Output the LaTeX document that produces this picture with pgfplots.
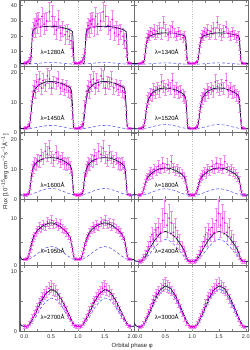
\documentclass[border=0pt]{standalone}
\usepackage{pgfplots}
\pgfplotsset{compat=1.18}
\usepackage{pgfplotstable}
\usepgfplotslibrary{groupplots}
\usetikzlibrary{calc}
\usepackage{fontspec}
\setmainfont{Liberation Sans}
\definecolor{mdlc}{RGB}{30,20,70}
\definecolor{dshc}{RGB}{95,95,250}
\definecolor{ptc}{RGB}{235,0,235}
\definecolor{barc}{RGB}{240,140,240}

% ---------- models (phase 0..1) ----------
\pgfplotstableread{
x y
0 2
0.11 2.1
0.125 4
0.14 15
0.15 21
0.16 23.5
0.18 24.6
0.22 25.3
0.3 26
0.4 26.4
0.5 26.5
0.6 26.3
0.7 25.8
0.8 24.8
0.86 24
0.9 23
0.91 18
0.92 8
0.93 2.5
0.94 2
1.0 2
}\mA
\pgfplotstableread{
x y
0 2
0.09 2.1
0.11 4
0.13 10
0.15 15.5
0.17 18.3
0.2 19.8
0.25 20.7
0.3 21.3
0.4 22
0.5 22.2
0.6 22
0.7 21.6
0.8 21
0.86 20.3
0.88 19
0.9 10
0.91 4
0.92 2.2
0.93 2
1 2
}\mB
\pgfplotstableread{
x y
0 1.5
0.08 1.6
0.1 2.5
0.12 5.5
0.14 9
0.16 11.8
0.18 13.5
0.21 14.8
0.25 15.6
0.3 16.3
0.4 17
0.5 17.2
0.6 17
0.7 16.5
0.8 15.7
0.86 15
0.88 14
0.9 9
0.91 4.5
0.92 2
0.93 1.5
1 1.5
}\mC
\pgfplotstableread{
x y
0 1.4
0.09 1.5
0.11 2.6
0.13 5
0.15 8
0.17 10.2
0.2 11.8
0.25 13.2
0.3 14
0.4 14.8
0.5 15
0.6 14.8
0.7 14.3
0.8 13.4
0.86 12.6
0.88 11.5
0.9 7
0.91 3.5
0.92 1.6
0.93 1.4
1 1.4
}\mD
\pgfplotstableread{
x y
0 1.4
0.08 1.5
0.1 2.8
0.12 6
0.14 8.5
0.16 10.2
0.19 11.4
0.24 12.4
0.3 13.1
0.4 13.7
0.5 13.9
0.6 13.7
0.7 13.1
0.8 12.1
0.86 11.2
0.88 10.2
0.9 6.5
0.91 3.5
0.92 1.6
0.93 1.4
1 1.4
}\mE
\pgfplotstableread{
x y
0 1.4
0.06 1.5
0.08 2.3
0.1 3.5
0.12 4.9
0.15 6.5
0.2 7.9
0.3 9.4
0.4 10.2
0.5 10.4
0.6 10.2
0.7 9.5
0.8 8.4
0.85 7.5
0.88 6.3
0.9 4.5
0.92 2.3
0.93 1.5
1 1.4
}\mF
\pgfplotstableread{
x y
0 1.2
0.05 1.3
0.08 2
0.11 3.5
0.14 5
0.18 6.3
0.25 7.5
0.35 8.4
0.45 8.9
0.5 9
0.55 8.9
0.65 8.4
0.75 7.5
0.82 6.6
0.86 5.8
0.89 4.2
0.92 2
0.95 1.3
1 1.2
}\mG
\pgfplotstableread{
x y
0 0.9
0.05 0.9
0.1 1.3
0.15 2.3
0.2 3.4
0.3 5.3
0.4 6.7
0.5 7.2
0.6 6.8
0.7 5.8
0.8 4.2
0.85 3.2
0.88 2.3
0.91 1.2
0.95 0.9
1 0.9
}\mH
\pgfplotstableread{
x y
0 0.9
0.05 0.95
0.1 1.3
0.2 2.8
0.3 4.8
0.4 6.3
0.5 7.0
0.6 6.6
0.7 5.3
0.8 3.5
0.9 1.6
0.95 1.0
1 0.9
}\mI
\pgfplotstableread{
x y
0 0.8
0.05 0.9
0.1 1.3
0.2 3.0
0.3 5.2
0.4 6.9
0.5 7.6
0.6 7.2
0.7 5.8
0.8 3.8
0.9 1.7
0.95 1.0
1 0.8
}\mJ

% ---------- dashed component ----------
\pgfplotstableread{
x y
0 1.6
0.1 1.7
0.2 1.98
0.3 2.32
0.4 2.6
0.5 2.7
0.6 2.6
0.7 2.32
0.8 1.98
0.9 1.7
1 1.6
}\dA
\pgfplotstableread{
x y
0 1.5
0.1 1.6
0.2 1.85
0.3 2.15
0.4 2.4
0.5 2.5
0.6 2.4
0.7 2.15
0.8 1.85
0.9 1.6
1 1.5
}\dB
\pgfplotstableread{
x y
0 1.3
0.1 1.41
0.2 1.71
0.3 2.09
0.4 2.39
0.5 2.5
0.6 2.39
0.7 2.09
0.8 1.71
0.9 1.41
1 1.3
}\dC
\pgfplotstableread{
x y
0 1.3
0.1 1.44
0.2 1.82
0.3 2.28
0.4 2.66
0.5 2.8
0.6 2.66
0.7 2.28
0.8 1.82
0.9 1.44
1 1.3
}\dD
\pgfplotstableread{
x y
0 1.3
0.1 1.52
0.2 2.09
0.3 2.81
0.4 3.38
0.5 3.6
0.6 3.38
0.7 2.81
0.8 2.09
0.9 1.52
1 1.3
}\dE
\pgfplotstableread{
x y
0 1.2
0.1 1.42
0.2 1.99
0.3 2.71
0.4 3.28
0.5 3.5
0.6 3.28
0.7 2.71
0.8 1.99
0.9 1.42
1 1.2
}\dF
\pgfplotstableread{
x y
0 1.1
0.1 1.38
0.2 2.1
0.3 3.0
0.4 3.72
0.5 4.0
0.6 3.72
0.7 3.0
0.8 2.1
0.9 1.38
1 1.1
}\dG
\pgfplotstableread{
x y
0 0.8
0.1 1.0
0.2 2.3
0.3 3.8
0.4 5.0
0.5 5.5
0.6 5.1
0.7 4.0
0.8 2.6
0.9 1.2
1 0.8
}\dH
\pgfplotstableread{
x y
0 0.8
0.1 1.1
0.2 2.2
0.3 3.8
0.4 5.0
0.5 5.6
0.6 5.3
0.7 4.2
0.8 2.7
0.9 1.3
1 0.8
}\dI
\pgfplotstableread{
x y
0 0.7
0.1 1.1
0.2 2.7
0.3 4.8
0.4 6.4
0.5 7.1
0.6 6.7
0.7 5.3
0.8 3.4
0.9 1.5
1 0.7
}\dJ

% ---------- observed points ----------
\pgfplotstableread{
x y e
0.01 2.2 0.8
0.03 2.5 0.8
0.05 2.8 1.0
0.07 3.2 1.0
0.09 4.5 1.5
0.11 6 2
0.13 9 3
0.15 21 4
0.17 24 5
0.19 27 5
0.21 25 6
0.23 30 5
0.25 28 6
0.27 31 5
0.30 26 6
0.33 33 6
0.37 28 7
0.42 30 6
0.47 36 6
0.52 33 7
0.56 27 6
0.60 24 6
0.64 31 6
0.68 22 5
0.72 25 5
0.76 21 6
0.80 23 5
0.84 20 5
0.87 17 5
0.90 12 5
0.92 6 3
0.94 2.5 1
0.97 2.3 0.8
0.99 2.2 0.8
}\pA
\pgfplotstableread{
x y e
0.01 2.0 0.6
0.03 2.2 0.6
0.05 2.3 0.8
0.07 2.8 0.8
0.09 3.5 1
0.11 6 2
0.13 12 3
0.15 16 3
0.17 19 3
0.19 21 3
0.21 20 3
0.23 23 3
0.26 22 3
0.29 24 4
0.32 21 3
0.35 23 4
0.39 25 4
0.43 22 4
0.47 29 4
0.51 24 4
0.55 21 4
0.59 23 4
0.63 26 4
0.67 22 3
0.71 20 3
0.75 23 3
0.79 21 3
0.83 19 3
0.86 20 3
0.88 14 3
0.90 6 2
0.93 2.5 0.8
0.96 2.0 0.6
0.99 2.0 0.6
}\pB
\pgfplotstableread{
x y e
0.01 1.6 0.4
0.03 1.7 0.4
0.05 1.8 0.5
0.07 2.2 0.6
0.09 3 1
0.11 5 1.5
0.13 9 2
0.15 12 2
0.17 14 2
0.19 15.5 2
0.21 13.5 2
0.23 17 2.5
0.26 16 2
0.29 18 2.5
0.32 15 2
0.35 17.5 2.5
0.39 16 2
0.43 19 2.5
0.47 18 3
0.51 15 2
0.55 17 2
0.59 16.5 2
0.63 18 2.5
0.67 15 2
0.71 16 2
0.75 14.5 2
0.79 15.5 2
0.83 14 2
0.86 13.5 2
0.88 11 2
0.90 6 1.5
0.92 2.5 0.8
0.95 1.6 0.4
0.98 1.5 0.4
}\pC
\pgfplotstableread{
x y e
0.01 1.5 0.4
0.04 1.6 0.4
0.07 1.8 0.5
0.09 2.3 0.6
0.11 3.5 1
0.13 6 1.5
0.15 8.5 1.5
0.17 10.5 2
0.19 11.5 2
0.22 13 2
0.25 12.5 2
0.28 14.5 2
0.31 13.5 2
0.35 15 2
0.39 14 2
0.43 17 2.5
0.47 15.5 2
0.51 14.5 2
0.55 16 2
0.59 15 2
0.63 17.5 2.5
0.67 14 2
0.71 15 2
0.75 13.5 2
0.79 14 2
0.83 12.5 2
0.86 12 2
0.89 9 2
0.91 4 1
0.94 1.7 0.5
0.97 1.5 0.4
}\pD
\pgfplotstableread{
x y e
0.01 1.4 0.4
0.04 1.5 0.4
0.07 1.7 0.5
0.09 2.5 0.8
0.11 4.5 1.2
0.13 7.5 1.5
0.15 9.5 2
0.17 10.5 2
0.19 12 2
0.22 11.5 2
0.25 13 2
0.28 12.5 2
0.31 14.5 2
0.35 13.5 2
0.39 16 2.5
0.43 15 2.5
0.47 17 2.5
0.51 14 2
0.55 13 2
0.59 15.5 2.5
0.63 14 2
0.67 12.5 2
0.71 13.5 2
0.75 12 2
0.79 11.5 2
0.83 12 2
0.86 10.5 2
0.89 8 1.5
0.91 4 1
0.94 1.6 0.4
0.97 1.4 0.4
}\pE
\pgfplotstableread{
x y e
0.01 1.4 0.4
0.04 1.5 0.4
0.07 2.0 0.5
0.09 3.0 0.8
0.11 4.2 1
0.13 5.5 1
0.15 6.8 1.2
0.17 7.5 1.2
0.20 8.2 1.5
0.23 9 1.5
0.26 8.5 1.5
0.29 10 1.5
0.33 9.5 1.5
0.37 11 2
0.41 10 1.5
0.45 12 2
0.49 10.5 1.5
0.53 11.5 2
0.57 10 1.5
0.61 12.5 2
0.65 10.5 1.5
0.69 9.5 1.5
0.73 10 1.5
0.77 9 1.5
0.81 8.5 1.5
0.85 7.5 1.5
0.88 6.5 1.2
0.90 4 1
0.92 2.5 0.6
0.95 1.5 0.4
0.98 1.4 0.4
}\pF
\pgfplotstableread{
x y e
0.01 1.3 0.3
0.04 1.4 0.3
0.07 1.8 0.4
0.09 2.5 0.5
0.11 3.3 0.6
0.13 4.2 0.7
0.15 5.0 0.7
0.17 5.8 0.8
0.19 6.3 0.8
0.22 7.0 0.8
0.25 7.5 0.8
0.28 8.2 0.9
0.31 7.8 0.8
0.35 8.6 0.9
0.39 8.2 0.8
0.43 9.2 0.9
0.47 8.8 0.9
0.51 9.5 1
0.55 8.7 0.9
0.59 9.0 0.9
0.63 8.3 0.8
0.67 8.8 0.9
0.71 7.8 0.8
0.75 7.5 0.8
0.79 7.0 0.8
0.83 6.3 0.8
0.86 5.5 0.7
0.88 4.5 0.6
0.90 3.3 0.5
0.92 2.0 0.4
0.95 1.4 0.3
0.98 1.3 0.3
}\pG
\pgfplotstableread{
x y e
0.01 0.9 0.4
0.04 0.8 0.4
0.07 1.2 0.5
0.10 1.8 0.6
0.13 2.3 0.8
0.16 3 1
0.19 4 1
0.22 5 1.2
0.25 6.5 1.5
0.28 5.5 1.5
0.31 7.5 1.5
0.34 6.5 1.5
0.37 8 2
0.41 7 2
0.45 9.5 2.5
0.49 11 3
0.53 8.5 2.5
0.57 10 3
0.61 9 2.5
0.65 7 2
0.69 8 2
0.73 6 1.5
0.77 5 1.5
0.81 4 1.2
0.85 3 1
0.88 2.2 0.8
0.91 1.3 0.5
0.94 0.9 0.4
0.97 0.8 0.4
}\pH
\pgfplotstableread{
x y e
0.01 0.9 0.3
0.04 0.8 0.3
0.07 1.0 0.3
0.10 1.4 0.4
0.13 1.8 0.4
0.16 2.4 0.5
0.19 3.0 0.5
0.22 3.6 0.6
0.25 4.2 0.6
0.28 4.8 0.7
0.31 5.2 0.7
0.34 5.8 0.8
0.38 6.2 0.8
0.42 6.6 0.9
0.46 7.2 1
0.50 7.5 1
0.54 7.0 1
0.58 6.8 0.9
0.62 6.2 0.8
0.66 5.6 0.8
0.70 5.0 0.7
0.74 4.3 0.6
0.78 3.6 0.6
0.82 2.8 0.5
0.86 2.1 0.4
0.90 1.4 0.4
0.94 1.0 0.3
0.97 0.9 0.3
}\pI
\pgfplotstableread{
x y e
0.01 0.8 0.3
0.04 0.8 0.3
0.07 1.0 0.3
0.10 1.4 0.4
0.13 2.0 0.4
0.16 2.6 0.5
0.19 3.3 0.5
0.22 4.0 0.6
0.25 4.7 0.6
0.28 5.3 0.7
0.31 5.8 0.7
0.34 6.3 0.8
0.38 6.8 0.8
0.42 7.2 0.9
0.46 7.7 1
0.50 8.0 1
0.54 7.6 1
0.58 7.3 0.9
0.62 6.8 0.8
0.66 6.2 0.8
0.70 5.5 0.7
0.74 4.7 0.6
0.78 3.9 0.6
0.82 3.0 0.5
0.86 2.2 0.4
0.90 1.5 0.4
0.94 1.0 0.3
0.97 0.8 0.3
}\pJ

\pgfplotsset{
  mdl/.style={color=mdlc, line width=0.75pt, mark=none},
  dsh/.style={color=dshc, line width=0.6pt, dash pattern=on 3pt off 2pt, mark=none},
}

% one copy of the observed points: #1 table, #2 phase shift
\newcommand{\obscopy}[2]{%
  \addplot[color=barc, line width=0.8pt, mark=none, quiver={u=0, v=2*\thisrow{e}}]
    table[x expr=\thisrow{x}+#2, y expr=\thisrow{y}-\thisrow{e}]{#1};
  \addplot[color=barc, only marks, mark=-, mark size=1.4pt, mark options={line width=0.6pt}]
    table[x expr=\thisrow{x}+#2, y expr=\thisrow{y}+\thisrow{e}]{#1};
  \addplot[color=barc, only marks, mark=-, mark size=1.4pt, mark options={line width=0.6pt}]
    table[x expr=\thisrow{x}+#2, y expr=\thisrow{y}-\thisrow{e}]{#1};
  \addplot[color=ptc, only marks, mark=*, mark size=0.6pt]
    table[x expr=\thisrow{x}+#2, y=y]{#1};
}

\newcommand{\drawpanel}[4]{%
  \obscopy{#3}{0}
  \obscopy{#3}{1}
  \addplot[dsh] table[x expr=\thisrow{x}-1,y=y]{#2};
  \addplot[dsh] table[x=x,y=y]{#2};
  \addplot[dsh] table[x expr=\thisrow{x}+1,y=y]{#2};
  \addplot[dsh] table[x expr=\thisrow{x}+2,y=y]{#2};
  \addplot[mdl] table[x expr=\thisrow{x}-1,y=y]{#1};
  \addplot[mdl] table[x=x,y=y]{#1};
  \addplot[mdl] table[x expr=\thisrow{x}+1,y=y]{#1};
  \addplot[mdl] table[x expr=\thisrow{x}+2,y=y]{#1};
  \node[anchor=west, font=\fontsize{6}{7}\selectfont, inner sep=0pt] at (rel axis cs:0.18,0.22) {#4};
}

\begin{document}
\begin{tikzpicture}
\begin{groupplot}[
  group style={group size=2 by 5, horizontal sep=0pt, vertical sep=0pt,
    xticklabels at=edge bottom, yticklabels at=edge left},
  width=114.3bp, height=66.3bp, scale only axis,
  xmin=-0.08, xmax=2.05, ymin=0,
  xtick={0,0.25,0.5,0.75,1,1.25,1.5,1.75,2},
  xticklabels={0.0,,0.5,,1.0,,1.5,,2.0},
  extra x ticks={1}, extra x tick labels={},
  extra x tick style={grid=major, major grid style={dotted, black!25, line width=0.3pt}, major tick length=0pt},
  tick align=inside, major tick length=3bp,
  tick style={line width=0.5pt},
  axis line style={draw=black!58, line width=1.1pt},
  ticklabel style={font=\fontsize{5.5}{6}\selectfont, text=black!80},
  /pgf/number format/assume math mode=true,
  xticklabel style={yshift=0.5bp},
  yticklabel style={xshift=0.5bp},
]
\nextgroupplot[ymax=43.5, ytick={0,10,20,30,40}]
\drawpanel{\mA}{\dA}{\pA}{λ=1280Å}
\nextgroupplot[ymax=43.5, ytick={0,10,20,30,40}]
\drawpanel{\mB}{\dB}{\pB}{λ=1340Å}
\nextgroupplot[ymax=22.1, ytick={0,10,20}]
\drawpanel{\mC}{\dC}{\pC}{λ=1450Å}
\nextgroupplot[ymax=22.1, ytick={0,10,20}]
\drawpanel{\mD}{\dD}{\pD}{λ=1520Å}
\nextgroupplot[ymax=22.1, ytick={0,10,20}]
\drawpanel{\mE}{\dE}{\pE}{λ=1600Å}
\nextgroupplot[ymax=22.1, ytick={0,10,20}]
\drawpanel{\mF}{\dF}{\pF}{λ=1800Å}
\nextgroupplot[ymax=14, ytick={0,5,10}, yticklabels={0,,10}]
\drawpanel{\mG}{\dG}{\pG}{λ=1950Å}
\nextgroupplot[ymax=14, ytick={0,5,10}]
\drawpanel{\mH}{\dH}{\pH}{λ=2400Å}
\nextgroupplot[ymax=11, ytick={0,5,10}, yticklabels={0,,10}]
\drawpanel{\mI}{\dI}{\pI}{λ=2700Å}
\nextgroupplot[ymax=11, ytick={0,5,10}]
\drawpanel{\mJ}{\dJ}{\pJ}{λ=3000Å}
\end{groupplot}
\node[rotate=90, font=\fontsize{6}{7}\selectfont, text=black!85] at ($(group c1r1.north west)!0.5!(group c1r5.south west)+(-15bp,-6bp)$)
  {Flux [10\textsuperscript{−15}erg cm\textsuperscript{−2}s\textsuperscript{−1}Å\textsuperscript{−1}]};
\node[font=\fontsize{6}{7}\selectfont, text=black!85] at ($(group c1r5.south east)+(-2bp,-14bp)$) {Orbital phase φ};
\pgfresetboundingbox
\path ($(group c1r5.south west)+(-20bp,-18.3bp)$) rectangle ($(group c2r1.north east)+(1.5bp,0.4bp)$);
\end{tikzpicture}
\end{document}
